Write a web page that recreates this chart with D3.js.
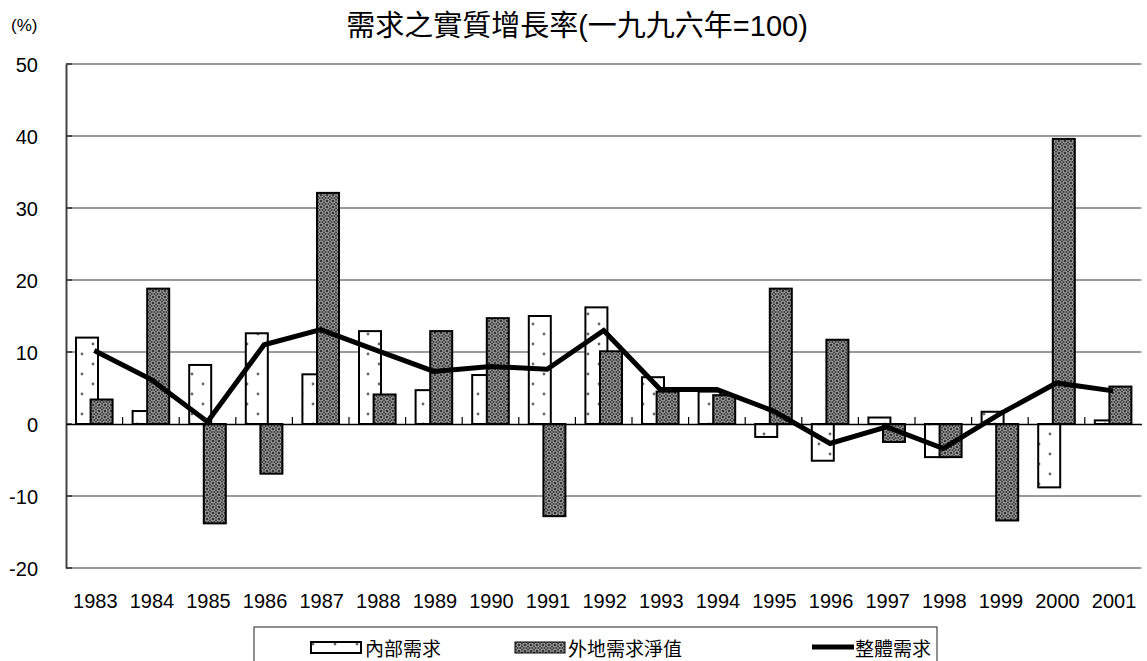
<!DOCTYPE html>
<html><head><meta charset="utf-8">
<script src="https://cdn.jsdelivr.net/npm/d3@7"></script>
<style>
html,body{margin:0;padding:0;background:#fff;}
svg{display:block;font-family:"Liberation Sans","Noto Sans CJK TC",Arial,sans-serif;}
</style></head>
<body>
<svg id="chart" width="1147" height="661"></svg>
<script>
const years = ["1983","1984","1985","1986","1987","1988","1989","1990","1991","1992","1993","1994","1995","1996","1997","1998","1999","2000","2001"];
const domestic = [12.0,1.8,8.2,12.6,6.9,12.9,4.7,6.8,15.0,16.2,6.5,4.5,-1.8,-5.1,0.9,-4.6,1.7,-8.8,0.5];
const external = [3.4,18.8,-13.8,-6.9,32.1,4.1,12.9,14.7,-12.8,10.1,4.5,4.0,18.8,11.7,-2.5,-4.6,-13.4,39.6,5.2];
const overall = [10.2,6.2,0.3,11.0,13.1,10.2,7.3,8.0,7.6,13.0,4.8,4.8,1.8,-2.7,-0.4,-3.4,1.4,5.7,4.6];
const yTicks = [-20,-10,0,10,20,30,40,50];
const seriesNames = ["內部需求","外地需求淨值","整體需求"];
const title = "需求之實質增長率(一九九六年=100)";

const svg = d3.select("#chart");
const L = 66, R = 1141.4, T = 64, B = 568;
const x = d3.scaleBand().domain(years).range([L, R]).padding(0);
const y = d3.scaleLinear().domain([-20, 50]).range([B, T]);
const bw = x.bandwidth();
const barW = 22;

const defs = svg.append("defs");
const pd = defs.append("pattern").attr("id","dots").attr("patternUnits","userSpaceOnUse")
  .attr("width",22).attr("height",20);
pd.append("rect").attr("width",22).attr("height",20).attr("fill","#fff");
pd.append("circle").attr("cx",5).attr("cy",4).attr("r",1.4).attr("fill","#666");
pd.append("circle").attr("cx",16).attr("cy",14).attr("r",1.4).attr("fill","#666");

const ph = defs.append("pattern").attr("id","hatch").attr("patternUnits","userSpaceOnUse")
  .attr("width",6).attr("height",6);
ph.append("rect").attr("width",6).attr("height",6).attr("fill","#333");
ph.append("circle").attr("cx",3).attr("cy",3).attr("r",2.1).attr("fill","none").attr("stroke","#c8c8c8").attr("stroke-width",1);
ph.append("circle").attr("cx",0).attr("cy",0).attr("r",0.9).attr("fill","#aaa");
ph.append("circle").attr("cx",6).attr("cy",0).attr("r",0.9).attr("fill","#aaa");
ph.append("circle").attr("cx",0).attr("cy",6).attr("r",0.9).attr("fill","#aaa");
ph.append("circle").attr("cx",6).attr("cy",6).attr("r",0.9).attr("fill","#aaa");

// gridlines
svg.append("g").selectAll("line").data(yTicks.filter(d=>d!==0)).join("line")
  .attr("x1",L).attr("x2",R).attr("y1",d=>y(d)).attr("y2",d=>y(d))
  .attr("stroke","#7a7a7a").attr("stroke-width",1.3);

// y axis
const yAxis = d3.axisLeft(y).tickValues(yTicks).tickSize(0).tickPadding(28)
  .tickFormat(d=>d);
const ga = svg.append("g").attr("transform",`translate(${L},0)`).call(yAxis);
ga.select(".domain").attr("stroke","#444").attr("stroke-width",2);
ga.selectAll("text").attr("font-size",20).attr("fill","#000").attr("dy","0.38em");
svg.append("g").selectAll("line").data(yTicks).join("line")
  .attr("x1",L).attr("x2",L+6).attr("y1",d=>y(d)).attr("y2",d=>y(d))
  .attr("stroke","#333").attr("stroke-width",1.5);

// bars
const bars = svg.append("g");
bars.selectAll("rect.dom").data(years).join("rect").attr("class","dom")
  .attr("x",(d)=>x(d)+bw/2-18.3)
  .attr("width",barW)
  .attr("y",(d,i)=>y(Math.max(0,domestic[i])))
  .attr("height",(d,i)=>Math.abs(y(domestic[i])-y(0)))
  .attr("fill","url(#dots)").attr("stroke","#000").attr("stroke-width",2);
bars.selectAll("rect.ext").data(years).join("rect").attr("class","ext")
  .attr("x",(d)=>x(d)+bw/2-3.7)
  .attr("width",barW)
  .attr("y",(d,i)=>y(Math.max(0,external[i])))
  .attr("height",(d,i)=>Math.abs(y(external[i])-y(0)))
  .attr("fill","url(#hatch)").attr("stroke","#000").attr("stroke-width",2);

// zero axis with ticks
const xAxis = d3.axisBottom(x).tickSize(0).tickPadding(0).tickFormat("");
const gx = svg.append("g").attr("transform",`translate(0,${y(0)})`).call(xAxis);
gx.select(".domain").attr("stroke","#000").attr("stroke-width",1.5);
svg.append("g").selectAll("line").data(years.slice(1)).join("line")
  .attr("x1",d=>x(d)).attr("x2",d=>x(d)).attr("y1",y(0)).attr("y2",y(0)-7)
  .attr("stroke","#000").attr("stroke-width",1.2);

// x labels
svg.append("g").selectAll("text").data(years).join("text")
  .attr("x",d=>x(d)+bw/2+1).attr("y",608)
  .attr("text-anchor","middle").attr("font-size",20).attr("fill","#000").text(d=>d);

// line
const line = d3.line().x((d,i)=>x(years[i])+bw/2).y(d=>y(d));
svg.append("path").datum(overall).attr("d",line)
  .attr("fill","none").attr("stroke","#000").attr("stroke-width",5).attr("stroke-linejoin","miter");

// title & unit
svg.append("text").attr("x",577).attr("y",36).attr("text-anchor","middle")
  .attr("font-size",29).attr("fill","#000").text(title);
svg.append("text").attr("x",11).attr("y",31).attr("font-size",17).attr("fill","#000").text("(%)");

// legend
const lg = svg.append("g");
lg.append("rect").attr("x",254).attr("y",627).attr("width",683).attr("height",60)
  .attr("fill","#fff").attr("stroke","#444").attr("stroke-width",1.2);
lg.append("rect").attr("x",311).attr("y",642).attr("width",50).attr("height",11)
  .attr("fill","url(#dots)").attr("stroke","#000").attr("stroke-width",2);
lg.append("text").attr("x",365).attr("y",656).attr("font-size",19).text(seriesNames[0]);
lg.append("rect").attr("x",515).attr("y",642).attr("width",50).attr("height",11)
  .attr("fill","url(#hatch)").attr("stroke","#000").attr("stroke-width",1);
lg.append("text").attr("x",568).attr("y",656).attr("font-size",19).text(seriesNames[1]);
lg.append("line").attr("x1",812).attr("x2",854).attr("y1",647).attr("y2",647)
  .attr("stroke","#000").attr("stroke-width",5);
lg.append("text").attr("x",855).attr("y",656).attr("font-size",19).text(seriesNames[2]);
</script>
</body></html>
